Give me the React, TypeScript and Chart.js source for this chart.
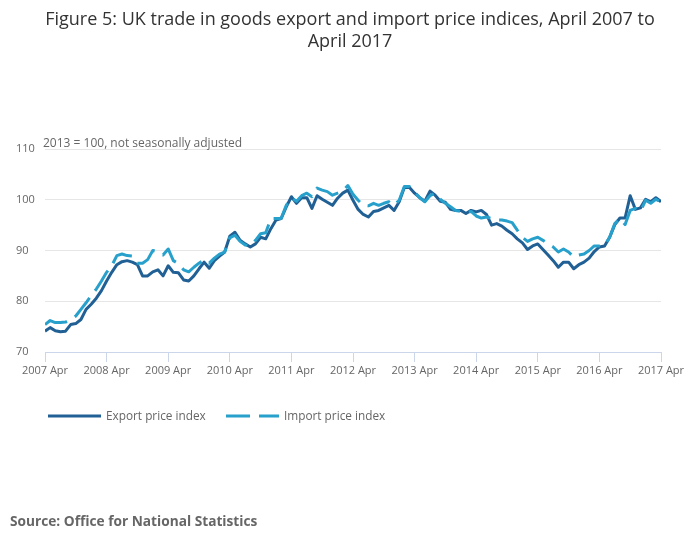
import { useEffect, useRef } from 'react';
import { Chart, registerables } from 'chart.js';

Chart.register(...registerables);

// monthly, April 2007 .. April 2017 (2013 = 100)
const exportIndex = [
  74.1, 74.8, 74.2, 74.0, 74.1, 75.4, 75.6, 76.4, 78.4, 79.4, 80.6, 82.1,
  84.0, 85.7, 87.2, 87.8, 88.0, 87.7, 87.2, 85.0, 85.0, 85.8, 86.2, 85.0,
  87.0, 85.7, 85.6, 84.2, 84.0, 85.0, 86.4, 87.7, 86.5, 88.0, 88.9, 89.7,
  92.8, 93.6, 92.0, 91.3, 90.7, 91.3, 92.6, 92.3, 94.3, 96.0, 96.3, 98.6,
  100.6, 99.3, 100.4, 100.4, 98.3, 100.8, 100.1, 99.5, 98.9, 100.3, 101.3, 101.9,
  99.9, 98.1, 97.1, 96.6, 97.7, 97.9, 98.4, 98.9, 97.9, 99.6, 102.4, 102.4,
  101.3, 100.4, 99.7, 101.7, 100.9, 99.7, 99.5, 98.1, 97.9, 97.9, 97.3, 97.9,
  97.6, 97.9, 97.1, 95.0, 95.3, 94.8, 94.0, 93.3, 92.3, 91.5, 90.2, 90.9,
  91.3, 90.2, 89.1, 88.0, 86.7, 87.7, 87.7, 86.4, 87.2, 87.7, 88.5, 89.8,
  90.7, 90.9, 92.6, 95.1, 96.4, 96.4, 100.8, 98.1, 98.4, 100.1, 99.6, 100.4,
  99.6,
];

const importIndex = [
  75.4, 76.2, 75.8, 75.8, 75.9, 76.4, 77.1, 78.4, 79.7, 81.1, 82.4, 84.0,
  85.7, 87.0, 89.0, 89.3, 89.0, 88.9, 87.5, 87.5, 88.2, 90.0, 89.7, 89.1,
  90.3, 88.0, 87.4, 86.2, 85.8, 86.7, 87.5, 88.2, 87.5, 88.5, 89.3, 89.7,
  92.5, 93.0, 91.8, 91.1, 90.9, 92.0, 93.3, 93.5, 96.3, 96.3, 96.3, 98.9,
  100.4, 99.7, 100.8, 101.3, 100.6, 102.3, 101.9, 101.6, 100.9, 101.3, 101.7, 102.8,
  101.1, 99.9, 98.9, 98.8, 99.3, 98.9, 99.3, 99.6, 98.9, 99.9, 102.6, 102.6,
  101.5, 100.4, 99.6, 100.8, 101.3, 100.1, 99.3, 98.6, 97.9, 97.7, 97.5, 97.7,
  96.8, 96.4, 96.6, 96.3, 96.0, 96.0, 95.8, 95.5, 94.0, 92.6, 91.8, 92.3,
  92.6, 92.0, 91.3, 90.7, 89.7, 90.3, 89.7, 88.7, 89.1, 89.3, 90.0, 90.9,
  90.9, 91.0, 92.6, 95.3, 96.3, 95.1, 97.9, 98.3, 97.7, 99.9, 99.3, 100.1,
  99.5,
];

const yearLabels = [
  '2007 Apr', '2008 Apr', '2009 Apr', '2010 Apr', '2011 Apr', '2012 Apr',
  '2013 Apr', '2014 Apr', '2015 Apr', '2016 Apr', '2017 Apr',
];

const titleLines = [
  'Figure 5: UK trade in goods export and import price indices, April 2007 to',
  'April 2017',
];
const subtitle = '2013 = 100, not seasonally adjusted';
const source = 'Source: Office for National Statistics';

const EXPORT_COLOR = '#206095';
const IMPORT_COLOR = '#27a0cc';
const FONT = "'Open Sans', sans-serif";

// title, subtitle, legend and source drawn straight onto the canvas
const textPlugin = {
  id: 'texts',
  afterDraw(chart: Chart) {
    const ctx = chart.ctx;
    ctx.save();
    ctx.textBaseline = 'alphabetic';

    ctx.fillStyle = '#333333';
    ctx.font = `18px ${FONT}`;
    ctx.textAlign = 'center';
    ctx.fillText(titleLines[0], 350, 25);
    ctx.fillText(titleLines[1], 350, 47);

    ctx.textAlign = 'left';
    ctx.fillStyle = '#666666';
    ctx.font = `12px ${FONT}`;
    ctx.fillText(subtitle, 43, 147);

    // legend
    const ly = 416;
    ctx.lineWidth = 3;
    ctx.strokeStyle = EXPORT_COLOR;
    ctx.setLineDash([]);
    ctx.beginPath();
    ctx.moveTo(48, ly);
    ctx.lineTo(101, ly);
    ctx.stroke();
    ctx.strokeStyle = IMPORT_COLOR;
    ctx.setLineDash([24, 9]);
    ctx.beginPath();
    ctx.moveTo(226, ly);
    ctx.lineTo(279, ly);
    ctx.stroke();
    ctx.setLineDash([]);
    ctx.fillStyle = '#666666';
    ctx.font = `11.8px ${FONT}`;
    ctx.textBaseline = 'middle';
    ctx.fillText('Export price index', 106, ly + 1);
    ctx.fillText('Import price index', 284, ly + 1);

    ctx.font = `bold 13.7px ${FONT}`;
    ctx.fillText(source, 10, 522);
    ctx.restore();
  },
};

export default function App() {
  const chartRef = useRef<HTMLCanvasElement>(null);
  const chartInstance = useRef<Chart | null>(null);

  useEffect(() => {
    if (!chartRef.current) return;
    if (chartInstance.current) chartInstance.current.destroy();

    Chart.defaults.font.family = FONT;

    chartInstance.current = new Chart(chartRef.current, {
      type: 'line',
      data: {
        datasets: [
          {
            label: 'Export price index',
            data: exportIndex.map((y, i) => ({ x: i, y })),
            borderColor: EXPORT_COLOR,
            borderWidth: 3,
            pointRadius: 0,
            borderJoinStyle: 'round',
            tension: 0,
            order: 1,
          },
          {
            label: 'Import price index',
            data: importIndex.map((y, i) => ({ x: i, y })),
            borderColor: IMPORT_COLOR,
            borderWidth: 3,
            borderDash: [24, 9],
            pointRadius: 0,
            borderJoinStyle: 'round',
            tension: 0,
            order: 0,
          },
        ],
      },
      options: {
        animation: false,
        responsive: true,
        maintainAspectRatio: false,
        layout: { padding: { top: 149, right: 39, bottom: 167, left: 16 } },
        plugins: {
          legend: { display: false },
          tooltip: { enabled: false },
        },
        scales: {
          x: {
            type: 'linear',
            min: 0,
            max: 120,
            afterFit: (s: any) => { s.height = 30; },
            ticks: {
              stepSize: 12,
              autoSkip: false,
              maxRotation: 0,
              padding: 2,
              color: '#666666',
              font: { size: 11 },
              callback: (v: any) => yearLabels[Math.round(Number(v) / 12)] ?? '',
            },
            grid: {
              drawOnChartArea: false,
              drawTicks: true,
              tickLength: 10,
              color: '#ccd6eb',
            },
            border: { color: '#ccd6eb', width: 1 },
          },
          y: {
            min: 70,
            max: 110,
            afterFit: (s: any) => { s.width = 29; },
            ticks: {
              stepSize: 10,
              crossAlign: 'far',
              color: '#666666',
              font: { size: 11 },
            },
            grid: {
              drawTicks: false,
              color: (c: any) => (c.tick && c.tick.value === 70 ? 'rgba(0,0,0,0)' : '#e6e6e6'),
            },
            border: { display: false },
          },
        },
      },
      plugins: [textPlugin],
    });

    return () => {
      if (chartInstance.current) {
        chartInstance.current.destroy();
        chartInstance.current = null;
      }
    };
  }, []);

  return (
    <div style={{ position: 'absolute', left: 0, top: 0, width: 700, height: 549, background: '#ffffff' }}>
      <canvas ref={chartRef} />
    </div>
  );
}
